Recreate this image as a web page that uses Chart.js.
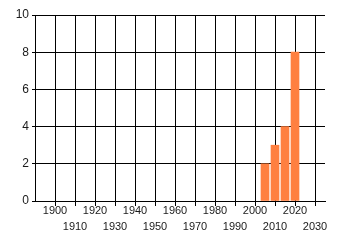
<!DOCTYPE html>
<html>
<head>
<meta charset="utf-8">
<script src="https://cdn.jsdelivr.net/npm/chart.js@4"></script>
<style>
  body { margin: 0; background: #fff; }
</style>
</head>
<body>
<canvas id="myChart" width="340" height="245"></canvas>
<script>
// datos del gráfico
const anios = [2005, 2010, 2015, 2020];
const valores = [2, 3, 4, 8];
const ticksX = [1900, 1910, 1920, 1930, 1940, 1950, 1960, 1970, 1980, 1990, 2000, 2010, 2020, 2030];
const ticksY = [0, 2, 4, 6, 8, 10];

const ctx = document.getElementById('myChart').getContext('2d');

const fuente = { family: 'Liberation Sans', size: 11, lineHeight: 1.45 };

const chart = new Chart(ctx, {
    type: 'bar',
    data: {
        datasets: [{
            data: anios.map((a, i) => ({ x: a, y: valores[i] })),
            backgroundColor: '#FF8040',
            borderWidth: 0,
            barThickness: 8
        }]
    },
    options: {
        responsive: false,
        animation: false,
        layout: { padding: { top: 15, right: 15, left: 0, bottom: 0 } },
        plugins: {
            legend: { display: false },
            tooltip: { enabled: false }
        },
        scales: {
            x: {
                type: 'linear',
                min: 1890,
                max: 2035,
                offset: false,
                afterBuildTicks: (scale) => {
                    scale.ticks = ticksX.map(v => ({ value: v }));
                },
                afterFit: (scale) => { scale.height = 44; },
                grid: { color: '#000', lineWidth: 1, tickLength: 5, offset: false },
                border: { color: '#000' },
                ticks: {
                    autoSkip: false,
                    maxRotation: 0,
                    minRotation: 0,
                    padding: -3,
                    color: '#1a1a1a',
                    font: fuente,
                    callback: function (value, index) {
                        return index % 2 === 0 ? [String(value), ''] : ['', String(value)];
                    }
                }
            },
            y: {
                min: 0,
                max: 10,
                afterBuildTicks: (scale) => {
                    scale.ticks = ticksY.map(v => ({ value: v }));
                },
                afterFit: (scale) => { scale.width = 35; },
                grid: { color: '#000', lineWidth: 1, tickLength: 3 },
                border: { color: '#000' },
                ticks: {
                    padding: 3,
                    color: '#1a1a1a',
                    font: { family: 'Liberation Sans', size: 12 }
                }
            }
        }
    }
});
</script>
</body>
</html>
